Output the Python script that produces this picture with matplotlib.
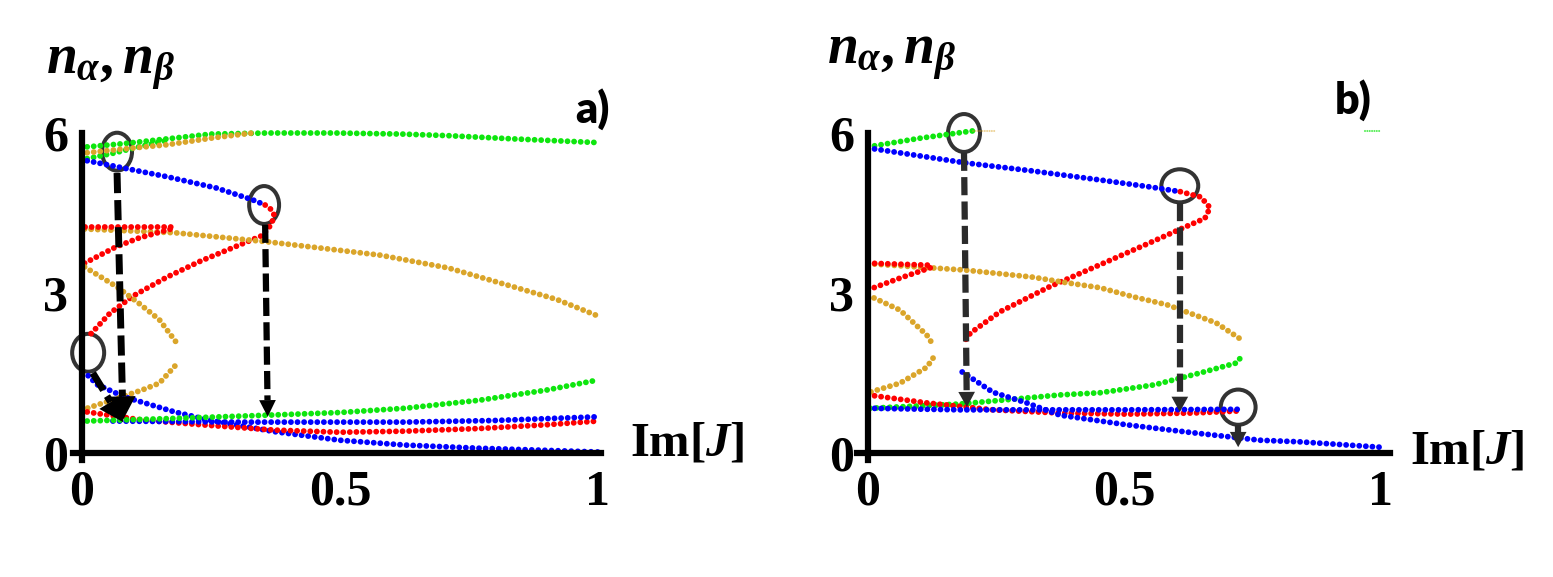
import numpy as np
import matplotlib
matplotlib.use("Agg")
import matplotlib.pyplot as plt
from matplotlib.patches import Ellipse

plt.rcParams["mathtext.fontset"] = "custom"
plt.rcParams["mathtext.rm"] = "Liberation Serif:bold"
plt.rcParams["mathtext.it"] = "Liberation Serif:italic:bold"
plt.rcParams["mathtext.bf"] = "Liberation Serif:bold"

GREEN = "#0ee60e"
BLUE = "#0000ff"
RED = "#ff0000"
GOLD = "#daa52a"

x_ticks = [0, 0.5, 1]
x_tick_labels = ["0", "0.5", "1"]
y_ticks = [0, 3, 6]
y_tick_labels = ["0", "3", "6"]

# ---- panel a) : branches of n_alpha, n_beta vs Im[J]
a_green_top_x = [0.01, 0.08, 0.165, 0.25, 0.36, 0.49, 0.62, 0.71, 0.835, 1.0]
a_green_top_y = [5.74, 5.8, 5.89, 5.98, 6.0, 6.0, 5.98, 5.95, 5.89, 5.82]
a_green_top2_x = [0.01, 0.06, 0.11, 0.16]
a_green_top2_y = [5.52, 5.62, 5.74, 5.85]
a_gold_top_x = [0.01, 0.1, 0.165, 0.255, 0.33]
a_gold_top_y = [5.63, 5.72, 5.78, 5.91, 6.0]
a_blue_top_x = [0.01, 0.067, 0.165, 0.26, 0.33, 0.355]
a_blue_top_y = [5.48, 5.37, 5.18, 4.97, 4.75, 4.65]
a_red_arc_x = [0.355, 0.365, 0.372, 0.368, 0.35, 0.3, 0.23, 0.165, 0.1, 0.054, 0.012]
a_red_arc_y = [4.65, 4.58, 4.48, 4.3, 4.08, 3.88, 3.6, 3.3, 2.95, 2.62, 2.18]
a_red_flat_x = [0.005, 0.18]
a_red_flat_y = [4.24, 4.24]
a_red_diag_x = [0.005, 0.035, 0.067, 0.11, 0.165, 0.18]
a_red_diag_y = [3.56, 3.71, 3.87, 4.03, 4.18, 4.22]
a_gold_mid_x = [0.005, 0.18, 0.36, 0.5, 0.578, 0.71, 0.835, 0.92, 1.0]
a_gold_mid_y = [4.2, 4.13, 3.96, 3.8, 3.71, 3.47, 3.12, 2.88, 2.57]
a_gold_c1_x = [0.005, 0.067, 0.11, 0.15, 0.184]
a_gold_c1_y = [3.49, 3.12, 2.81, 2.5, 2.06]
a_gold_c2_x = [0.18, 0.15, 0.116, 0.048, 0.01]
a_gold_c2_y = [1.63, 1.31, 1.18, 0.96, 0.84]
a_red_low_x = [0.01, 0.116, 0.245, 0.374, 0.5, 0.626, 0.77, 0.9, 1.0]
a_red_low_y = [0.77, 0.62, 0.52, 0.43, 0.39, 0.41, 0.46, 0.53, 0.6]
a_green_low_x = [0.01, 0.18, 0.36, 0.5, 0.626, 0.77, 0.9, 1.0]
a_green_low_y = [0.6, 0.65, 0.71, 0.76, 0.84, 0.99, 1.18, 1.37]
a_blue_flat_x = [0.06, 0.31, 0.626, 0.8, 1.0]
a_blue_flat_y = [0.6, 0.58, 0.58, 0.61, 0.68]
a_blue_desc_x = [0.012, 0.03, 0.083, 0.18, 0.245, 0.374, 0.5, 0.626, 0.77, 1.0]
a_blue_desc_y = [1.45, 1.28, 1.05, 0.77, 0.62, 0.4, 0.24, 0.15, 0.09, 0.02]

# ---- panel b)
b_green_top_x = [0.0, 0.1, 0.205]
b_green_top_y = [5.74, 5.9, 6.04]
b_gold_faint_x = [0.205, 0.25]
b_gold_faint_y = [6.04, 6.04]
b_green_faint_x = [0.97, 1.0]
b_green_faint_y = [6.04, 6.04]
b_blue_top_x = [0.0, 0.19, 0.32, 0.453, 0.55, 0.61]
b_blue_top_y = [5.72, 5.44, 5.29, 5.12, 4.99, 4.9]
b_red_arc_x = [0.61, 0.65, 0.668, 0.658, 0.615, 0.55, 0.453, 0.355, 0.258, 0.2, 0.186]
b_red_arc_y = [4.9, 4.8, 4.6, 4.4, 4.22, 3.94, 3.53, 3.12, 2.65, 2.25, 2.06]
b_red_flat_x = [0.0, 0.127]
b_red_flat_y = [3.56, 3.52]
b_red_diag_x = [0.0, 0.0625, 0.127]
b_red_diag_y = [3.06, 3.28, 3.49]
b_gold_mid_x = [0.0, 0.19, 0.32, 0.39, 0.453, 0.518, 0.584, 0.68, 0.727]
b_gold_mid_y = [3.55, 3.43, 3.3, 3.19, 3.1, 2.93, 2.78, 2.44, 2.14]
b_green_rise_x = [0.004, 0.18, 0.375, 0.453, 0.56, 0.648, 0.72, 0.727]
b_green_rise_y = [0.84, 0.92, 1.09, 1.13, 1.28, 1.5, 1.69, 1.78]
b_gold_c1_x = [0.0, 0.0625, 0.115, 0.127]
b_gold_c1_y = [2.96, 2.68, 2.21, 2.03]
b_gold_c2_x = [0.127, 0.115, 0.0625, 0.0]
b_gold_c2_y = [1.78, 1.61, 1.31, 1.13]
b_red_low_x = [0.0, 0.115, 0.244, 0.375, 0.505, 0.635, 0.727]
b_red_low_y = [1.09, 0.94, 0.81, 0.75, 0.73, 0.75, 0.79]
b_blue_flat_x = [0.0, 0.18, 0.31, 0.5, 0.727]
b_blue_flat_y = [0.84, 0.81, 0.81, 0.81, 0.82]
b_blue_desc_x = [0.184, 0.244, 0.31, 0.375, 0.505, 0.635, 0.766, 0.844, 1.0]
b_blue_desc_y = [1.52, 1.14, 0.94, 0.71, 0.53, 0.38, 0.24, 0.21, 0.11]

# circles (center x, center n, width, height) and arrows (start, tip)
a_circles = [(0.068, 5.65, 0.058, 0.71), (0.353, 4.65, 0.058, 0.71), (0.012, 1.88, 0.062, 0.71)]
a_arrows = [((0.068, 5.25), (0.0795, 0.62)), ((0.355, 4.28), (0.36, 0.68)), ((0.021, 1.5), (0.0795, 0.58))]
b_circles = [(0.1875, 6.0, 0.0625, 0.71), (0.609, 5.01, 0.072, 0.62), (0.723, 0.86, 0.068, 0.66)]
b_arrows = [((0.1875, 5.63), (0.193, 0.86)), ((0.609, 4.69), (0.609, 0.77)), ((0.723, 0.53), (0.723, 0.11))]

fig = plt.figure(figsize=(15.53, 5.77), dpi=100)
ax_a = fig.add_axes([0.0468, 0.2028, 0.3399, 0.5667])
ax_b = fig.add_axes([0.552, 0.2028, 0.3432, 0.5667])
ax_a.set_xlim(-0.018, 1.005)
ax_b.set_xlim(-0.021, 1.02)


def dots(ax, x, y, color, lw=4.2, alpha=1.0):
    ax.plot(x, y, color=color, lw=lw, linestyle=(0, (0.01, 1.12)),
            dash_capstyle="round", clip_on=False, alpha=alpha)


def dashed_arrow(ax, start, tip, color, lw, head_len, head_w):
    p0 = ax.transData.transform(start)
    p1 = ax.transData.transform(tip)
    d = p1 - p0
    hl = head_len * fig.dpi / 72
    base = ax.transData.inverted().transform(p1 - d / np.hypot(*d) * hl)
    ax.plot([start[0], base[0]], [start[1], base[1]], color=color, lw=lw,
            linestyle=(0, (2.9, 1.0)), dash_capstyle="butt", clip_on=False)
    ax.annotate("", xy=tip, xytext=base, annotation_clip=False,
                arrowprops=dict(arrowstyle=f"-|>,head_length={head_len / 10},head_width={head_w / 20}",
                                color=color, lw=0, shrinkA=0, shrinkB=0, mutation_scale=10))


for ax in (ax_a, ax_b):
    ax.set_ylim(-0.13, 6.0)
    for s in ("top", "right"):
        ax.spines[s].set_visible(False)
    for s in ("left", "bottom"):
        ax.spines[s].set_position(("data", 0))
        ax.spines[s].set_linewidth(4.5)
    ax.set_xticks(x_ticks)
    ax.set_xticklabels(x_tick_labels)
    ax.set_yticks(y_ticks)
    ax.set_yticklabels(y_tick_labels)
    for lab in ax.get_xticklabels() + ax.get_yticklabels():
        lab.set_fontfamily("Liberation Serif")
        lab.set_fontweight("bold")
        lab.set_fontsize(36)
    ax.tick_params(axis="x", length=0, pad=12)
    ax.tick_params(axis="y", length=0, pad=10)
    ax.patch.set_visible(False)

# panel a
dots(ax_a, a_green_top_x, a_green_top_y, GREEN)
dots(ax_a, a_green_top2_x, a_green_top2_y, GREEN)
dots(ax_a, a_gold_top_x, a_gold_top_y, GOLD)
dots(ax_a, a_blue_top_x, a_blue_top_y, BLUE)
dots(ax_a, a_red_arc_x, a_red_arc_y, RED)
dots(ax_a, a_gold_mid_x, a_gold_mid_y, GOLD)
dots(ax_a, a_red_flat_x, a_red_flat_y, RED)
dots(ax_a, a_red_diag_x, a_red_diag_y, RED)
dots(ax_a, a_gold_c1_x, a_gold_c1_y, GOLD)
dots(ax_a, a_gold_c2_x, a_gold_c2_y, GOLD)
dots(ax_a, a_blue_desc_x, a_blue_desc_y, BLUE)
dots(ax_a, a_red_low_x, a_red_low_y, RED)
dots(ax_a, a_blue_flat_x, a_blue_flat_y, BLUE)
dots(ax_a, a_green_low_x, a_green_low_y, GREEN)

# panel b
dots(ax_b, b_green_top_x, b_green_top_y, GREEN)
dots(ax_b, b_gold_faint_x, b_gold_faint_y, GOLD, lw=1.5, alpha=0.5)
dots(ax_b, b_green_faint_x, b_green_faint_y, GREEN, lw=1.5, alpha=0.7)
dots(ax_b, b_blue_top_x, b_blue_top_y, BLUE)
dots(ax_b, b_red_arc_x, b_red_arc_y, RED)
dots(ax_b, b_gold_mid_x, b_gold_mid_y, GOLD)
dots(ax_b, b_red_flat_x, b_red_flat_y, RED)
dots(ax_b, b_red_diag_x, b_red_diag_y, RED)
dots(ax_b, b_gold_c1_x, b_gold_c1_y, GOLD)
dots(ax_b, b_gold_c2_x, b_gold_c2_y, GOLD)
dots(ax_b, b_green_rise_x, b_green_rise_y, GREEN)
dots(ax_b, b_red_low_x, b_red_low_y, RED)
dots(ax_b, b_blue_flat_x, b_blue_flat_y, BLUE)
dots(ax_b, b_blue_desc_x, b_blue_desc_y, BLUE)

# circles + jump arrows
for cx, cy, w, h in a_circles:
    ax_a.add_patch(Ellipse((cx, cy), w, h, fill=False, ec="#333333", lw=2.9, clip_on=False))
for cx, cy, w, h in b_circles:
    ax_b.add_patch(Ellipse((cx, cy), w, h, fill=False, ec="#333333", lw=2.9, clip_on=False))

dashed_arrow(ax_a, *a_arrows[0], "black", 5, 17, 19)
dashed_arrow(ax_a, *a_arrows[1], "black", 4.5, 12, 12)
dashed_arrow(ax_a, *a_arrows[2], "black", 5, 17, 19)
for st, tp in b_arrows:
    dashed_arrow(ax_b, st, tp, "#2b2b2b", 4.5, 11, 12)

# labels
ax_a.text(0.055, 7.25, r"$n_\alpha, n_\beta$", fontsize=40, ha="center", va="center")
ax_b.text(0.045, 7.45, r"$n_\alpha, n_\beta$", fontsize=40, ha="center", va="center")
ax_a.text(1.174, 0.21, r"$\mathrm{Im}[J]$", fontsize=35, ha="center", va="center")
ax_b.text(1.17, 0.06, r"$\mathrm{Im}[J]$", fontsize=35, ha="center", va="center")
ax_a.text(0.99, 6.44, "a)", fontsize=31, fontfamily="Lato", fontweight="heavy", ha="center", va="center")
ax_b.text(0.947, 6.62, "b)", fontsize=31, fontfamily="Lato", fontweight="heavy", ha="center", va="center")

fig.savefig("out.png", dpi=100)
